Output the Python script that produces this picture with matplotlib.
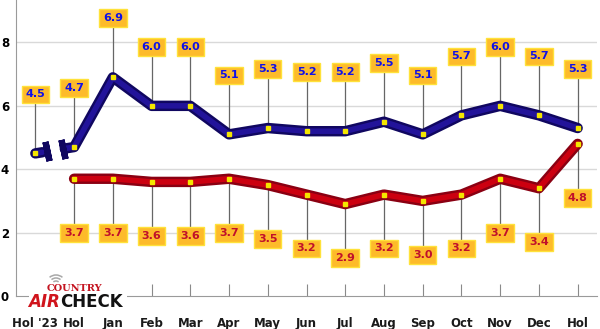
import matplotlib.pyplot as plt
from matplotlib.patches import Arc

# Chart data
months = ["Hol '23", "Hol", "Jan", "Feb", "Mar", "Apr", "May", "Jun",
          "Jul", "Aug", "Sep", "Oct", "Nov", "Dec", "Hol"]
blueValues = [4.5, 4.7, 6.9, 6.0, 6.0, 5.1, 5.3, 5.2, 5.2, 5.5, 5.1, 5.7, 6.0, 5.7, 5.3]
redValues = [None, 3.7, 3.7, 3.6, 3.6, 3.7, 3.5, 3.2, 2.9, 3.2, 3.0, 3.2, 3.7, 3.4, 4.8]
yTicks = [0, 2, 4, 6, 8]

blueDark, blueMain = "#100760", "#22139a"
redDark, redMain = "#8a0012", "#cc0010"
boxFace, boxEdge = "#fdbb2a", "#ffe23a"

fig = plt.figure(figsize=(6, 3.29), dpi=100)
ax = fig.add_axes([16 / 600, 1 - 296 / 329, 581 / 600, 296 / 329])
ax.set_xlim(-0.5, 14.5)
ax.set_ylim(0, 9.34)

# Grid and axes
for yv in yTicks[1:]:
    ax.axhline(yv, color="#d9d9d9", lw=1, zorder=0)
for side in ["top", "right"]:
    ax.spines[side].set_visible(False)
ax.spines["left"].set_color("#9a9a9a")
ax.spines["bottom"].set_color("#9a9a9a")
ax.set_xticks(range(len(months)))
ax.set_xticklabels(months, fontsize=8.5, fontweight="bold", color="#1a1a1a")
ax.tick_params(axis="x", direction="in", length=9, color="#8a8a8a", pad=15)
ax.set_yticks(yTicks)
ax.set_yticklabels([str(t) for t in yTicks], fontsize=8.5, fontweight="bold")
ax.tick_params(axis="y", length=0, pad=5)


def tube(xs, ys, dark, main):
    ax.plot(xs, ys, color=dark, lw=7.5, solid_capstyle="round",
            solid_joinstyle="round", zorder=3)
    ax.plot(xs, ys, color=main, lw=4, solid_capstyle="round",
            solid_joinstyle="round", zorder=3)


# Blue line, broken between Hol '23 and Hol
xb = list(range(len(months)))
slope = blueValues[1] - blueValues[0]
tube([0, 0.18], [blueValues[0], blueValues[0] + 0.18 * slope], blueDark, blueMain)
tube([0.76] + xb[1:], [blueValues[0] + 0.76 * slope] + blueValues[1:], blueDark, blueMain)
for bx in [0.3, 0.72]:
    ax.plot(bx, blueValues[0] + bx * slope, marker=(2, 2, 12), ms=14, mew=4.5,
            color=blueDark, zorder=4)

# Red line
xr = [i for i, v in enumerate(redValues) if v is not None]
yr = [v for v in redValues if v is not None]
tube(xr, yr, redDark, redMain)

# Yellow point markers
ax.plot(xb, blueValues, "s", ms=3, color="#f4e600", zorder=5)
ax.plot(xr, yr, "s", ms=3, color="#f4e600", zorder=5)

# Leader lines and value boxes
for x, v in zip(xb, blueValues):
    ax.plot([x, x], [v, v + 1.86], color="#666666", lw=0.9, zorder=2)
    ax.text(x, v + 1.86, f"{v:.1f}", ha="center", va="center", fontsize=8,
            fontweight="bold", color="#1010e8", zorder=6,
            bbox=dict(boxstyle="square,pad=0.35", fc=boxFace, ec=boxEdge, lw=1))
for x, v in zip(xr, yr):
    ax.plot([x, x], [v, v - 1.7], color="#666666", lw=0.9, zorder=2)
    ax.text(x, v - 1.7, f"{v:.1f}", ha="center", va="center", fontsize=8,
            fontweight="bold", color="#c0102a", zorder=6,
            bbox=dict(boxstyle="square,pad=0.35", fc=boxFace, ec=boxEdge, lw=1))

# Country Aircheck logo (coordinates in pixels, origin top-left of the box)
logo = fig.add_axes([29 / 600, 1 - 309 / 329, 98 / 600, 40 / 329])
logo.set_xlim(0, 98)
logo.set_ylim(40, 0)
logo.set_xticks([])
logo.set_yticks([])
for s in logo.spines.values():
    s.set_visible(False)
logo.set_facecolor("none")
logo.add_patch(plt.Rectangle((0, 14), 98, 26, fc="white", ec="none"))
for r in [4, 7, 10]:
    logo.add_patch(Arc((27, 16), r * 2, r * 2, theta1=230, theta2=310,
                       color="#a8a8a8", lw=1.1))
logo.text(45, 19.5, "COUNTRY", ha="center", va="center", fontsize=7,
          fontweight="bold", family="DejaVu Serif", color="#c41420")
logo.text(31, 33, "AIR", ha="right", va="center", fontsize=12,
          fontweight="bold", style="italic", color="#d0141c")
logo.text(31, 33, "CHECK", ha="left", va="center", fontsize=12,
          fontweight="bold", color="#111111")

plt.savefig("out.png", dpi=100)
